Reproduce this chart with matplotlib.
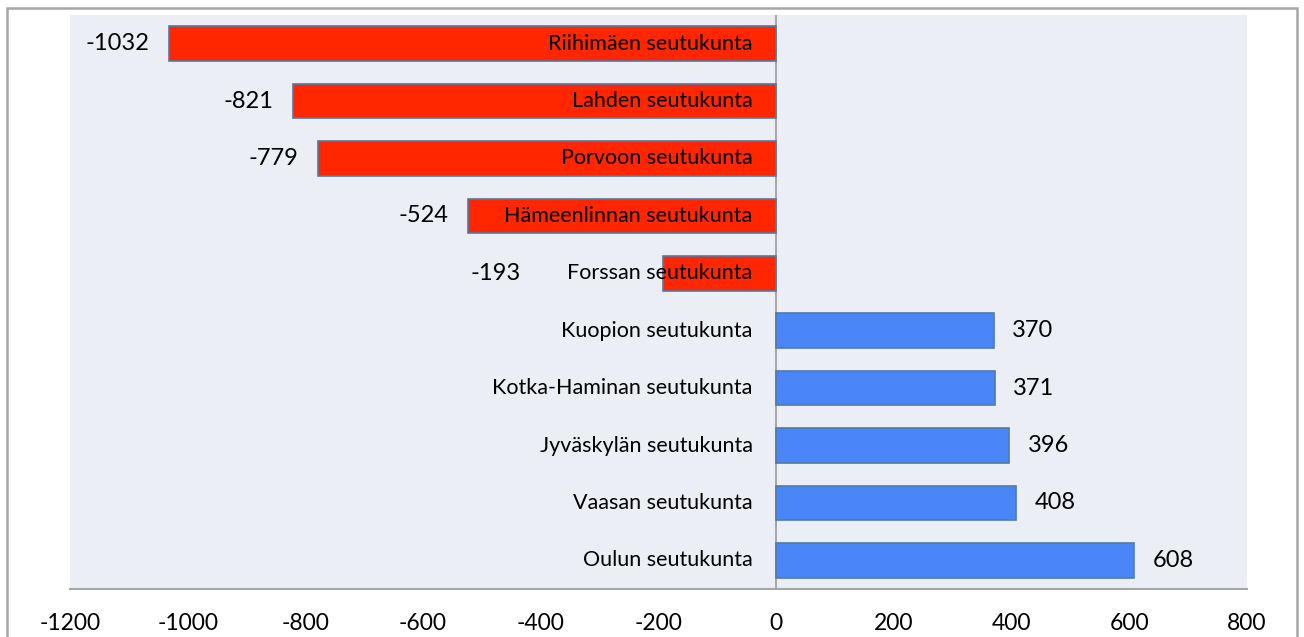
import matplotlib
matplotlib.use("Agg")
import matplotlib.pyplot as plt
from matplotlib.patches import Rectangle

categories = ["Riihimäen seutukunta", "Lahden seutukunta", "Porvoon seutukunta",
              "Hämeenlinnan seutukunta", "Forssan seutukunta", "Kuopion seutukunta",
              "Kotka-Haminan seutukunta", "Jyväskylän seutukunta", "Vaasan seutukunta",
              "Oulun seutukunta"]
values = [-1032, -821, -779, -524, -193, 370, 371, 396, 408, 608]
xticks = [-1200, -1000, -800, -600, -400, -200, 0, 200, 400, 600, 800]

plt.rcParams['font.family'] = ['Lato', 'DejaVu Sans']

W, H = 1304, 637
fig = plt.figure(figsize=(W/100, H/100), dpi=100)
fig.patch.set_facecolor('white')
# outer frame
fig.add_artist(Rectangle((6.5/W, -0.05), (1297-6.5)/W, 1.05 - 7.5/H, transform=fig.transFigure,
                         fill=False, edgecolor='#A6A6A6', linewidth=1.8, zorder=10))

ax = fig.add_axes([70/W, 1-589/H, (1247-70)/W, (589-15)/H])
ax.set_facecolor('#EBEEF4')
n = len(categories)
ypos = list(range(n))
colors = ['#FF2600' if v < 0 else '#4A86F8' for v in values]
ax.barh(ypos, values, height=0.6, color=colors, edgecolor='#4F7BA6', linewidth=1.2, zorder=2)
ax.set_xlim(-1200, 800)
ax.set_ylim(n - 0.5, -0.5)
ax.axvline(0, color='#A0A0A0', linewidth=1.3, zorder=1)

fig.canvas.draw()
renderer = fig.canvas.get_renderer()
inv = ax.transData.inverted()
for y, (c, v) in enumerate(zip(categories, values)):
    t = ax.text(-40, y, c, ha='right', va='center', fontsize=15.5, color='black', zorder=3)
    if v < 0:
        bb = t.get_window_extent(renderer)
        text_left = inv.transform((bb.x0, bb.y0))[0]
        xl = min(v - 33, text_left - 80)
        ax.text(xl, y, str(v), ha='right', va='center', fontsize=17, zorder=3)
    else:
        ax.text(v + 31, y, str(v), ha='left', va='center', fontsize=17, zorder=3)

ax.set_yticks([])
ax.set_xticks(xticks)
ax.set_xticklabels([str(t) for t in xticks], fontsize=16.5)
ax.tick_params(axis='x', length=0, pad=17)
for s in ['top', 'right', 'left']:
    ax.spines[s].set_visible(False)
ax.spines['bottom'].set_color('#A6A6A6')
ax.spines['bottom'].set_linewidth(1.5)

fig.savefig('out.png', dpi=100)
